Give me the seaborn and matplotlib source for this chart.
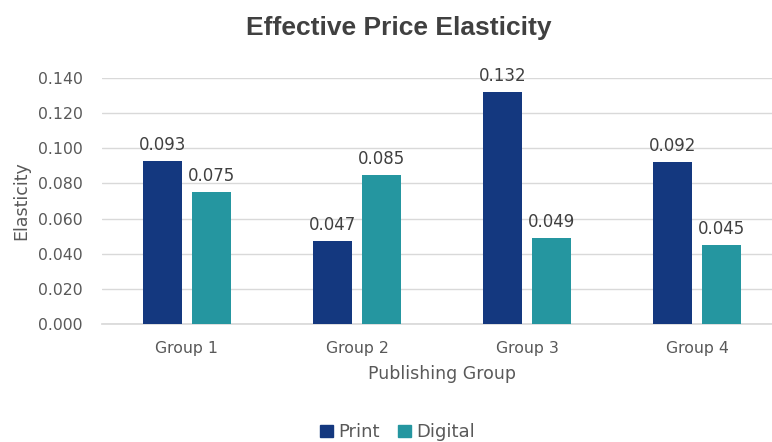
import pandas as pd
import seaborn as sns
import matplotlib.pyplot as plt

groups = ['Group 1', 'Group 2', 'Group 3', 'Group 4']
print_vals = [0.093, 0.047, 0.132, 0.092]
digital_vals = [0.075, 0.085, 0.049, 0.045]
series = ['Print', 'Digital']
colors = ['#14387F', '#2596A0']

df = pd.DataFrame({
    'Publishing Group': groups * 2,
    'Elasticity': print_vals + digital_vals,
    'Series': [series[0]] * 4 + [series[1]] * 4,
})

sns.set_theme(style='white')
plt.rcParams['font.family'] = ['DejaVu Sans']
txt = '#595959'

fig = plt.figure(figsize=(7.72, 4.42), dpi=100)
ax = fig.add_axes([0.132, 0.267, 0.881, 0.5565])

sns.barplot(data=df, x='Publishing Group', y='Elasticity', hue='Series',
            palette=colors, saturation=1, width=0.58, gap=0.2, linewidth=0,
            ax=ax, legend=False, zorder=3)

# value labels
for cont in ax.containers:
    ax.bar_label(cont, fmt='%.3f', padding=5, fontsize=12, color='#404040')

ax.set_ylim(0, 0.14)
ax.set_yticks([i * 0.02 for i in range(8)])
ax.set_yticklabels([f'{i * 0.02:.3f}' for i in range(8)])
ax.yaxis.grid(True, color='#D9D9D9', linewidth=1, zorder=0)
for s in ['top', 'right', 'left']:
    ax.spines[s].set_visible(False)
ax.spines['bottom'].set_color('#D9D9D9')
ax.tick_params(axis='both', length=0, labelsize=11.3, colors=txt)
ax.tick_params(axis='y', pad=14)
ax.tick_params(axis='x', pad=12)
ax.set_xlabel('Publishing Group', fontsize=12.5, color=txt, labelpad=7)
ax.set_ylabel('Elasticity', fontsize=12.5, color=txt)
ax.yaxis.set_label_coords(-0.105, 0.5)

fig.text(0.516, 0.937, 'Effective Price Elasticity', ha='center', va='center',
         fontsize=19, fontweight='bold', color='#404040', family='Liberation Sans')

handles = [plt.Rectangle((0, 0), 1, 1, color=c) for c in colors]
fig.legend(handles, series, loc='center', bbox_to_anchor=(0.515, 0.022), ncol=2,
           frameon=False, fontsize=13, labelcolor=txt, handlelength=0.7,
           handleheight=0.7, handletextpad=0.3, columnspacing=1.0,
           borderpad=0)

fig.savefig('out.png', dpi=100)
